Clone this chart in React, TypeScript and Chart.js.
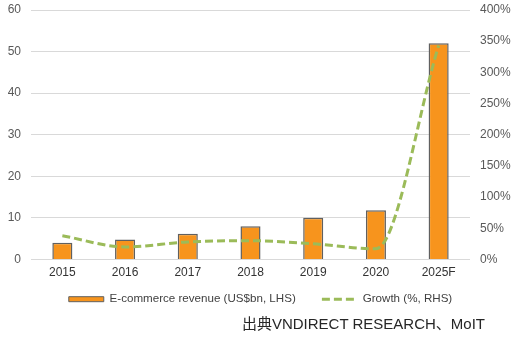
import React, { useEffect, useRef } from "react";
import { Chart, registerables } from "chart.js";

Chart.register(...registerables);

const categories = ["2015", "2016", "2017", "2018", "2019", "2020", "2025F"];
const revenue = [4.0, 4.8, 6.2, 8.0, 10.0, 11.8, 52.0];
const growth = [38, 20, 28, 30, 25, 17, 343];
const revenueLabel = "E-commerce revenue (US$bn, LHS)";
const growthLabel = "Growth (%, RHS)";
const sourceText = "出典VNDIRECT RESEARCH、MoIT";

const FONT = '"Liberation Sans", Arial, "Noto Sans CJK JP", sans-serif';
const ORANGE = "#F7941D";
const GREEN = "#9BBB59";
const BAR_EDGE = "#606060";

export default function App() {
  const canvasRef = useRef<HTMLCanvasElement | null>(null);

  useEffect(() => {
    const ctx = canvasRef.current!;
    const chart = new Chart(ctx, {
      type: "bar",
      data: {
        labels: categories,
        datasets: [
          {
            type: "bar",
            label: revenueLabel,
            data: revenue,
            backgroundColor: ORANGE,
            borderColor: BAR_EDGE,
            borderWidth: 1.5,
            barPercentage: 0.32,
            categoryPercentage: 1,
            yAxisID: "y",
            order: 1,
          },
          {
            type: "line",
            label: growthLabel,
            data: growth,
            borderColor: GREEN,
            backgroundColor: GREEN,
            borderWidth: 3,
            borderDash: [8, 4],
            pointRadius: 0,
            cubicInterpolationMode: "monotone",
            yAxisID: "y1",
            order: 0,
          },
        ],
      },
      options: {
        animation: false,
        responsive: false,
        layout: { padding: { top: 10, left: 0, right: 0, bottom: 0 } },
        plugins: {
          tooltip: { enabled: false },
          legend: {
            position: "bottom",
            labels: {
              usePointStyle: true,
              pointStyleWidth: 35,
              boxHeight: 5,
              padding: 10,
              color: "#404040",
              font: { family: FONT, size: 11.6 },
              generateLabels: () => [
                {
                  text: revenueLabel + "     ",
                  fillStyle: ORANGE,
                  strokeStyle: BAR_EDGE,
                  lineWidth: 1,
                  pointStyle: "rect",
                  datasetIndex: 0,
                  hidden: false,
                  fontColor: "#404040",
                },
                {
                  text: growthLabel,
                  fillStyle: GREEN,
                  strokeStyle: GREEN,
                  lineWidth: 3,
                  lineDash: [8, 4],
                  pointStyle: "line",
                  datasetIndex: 1,
                  hidden: false,
                  fontColor: "#404040",
                },
              ],
            },
          },
        },
        scales: {
          x: {
            grid: { display: false, drawTicks: false },
            border: { display: false },
            ticks: { color: "#333333", font: { family: FONT, size: 12 }, padding: 6 },
            afterFit: (s: any) => {
              s.height = 24;
            },
          },
          y: {
            position: "left",
            min: 0,
            max: 60,
            grid: { color: "#D9D9D9", lineWidth: 1, drawTicks: false },
            border: { display: false },
            ticks: { stepSize: 10, color: "#595959", font: { family: FONT, size: 12 }, padding: 10 },
            afterFit: (s: any) => {
              s.width = 31;
              s.paddingTop = 0;
              s.paddingBottom = 0;
            },
          },
          y1: {
            position: "right",
            min: 0,
            max: 400,
            grid: { display: false, drawTicks: false },
            border: { display: false },
            ticks: {
              stepSize: 50,
              color: "#595959",
              font: { family: FONT, size: 12 },
              padding: 10,
              callback: (v: any) => v + "%",
            },
            afterFit: (s: any) => {
              s.width = 51;
              s.paddingTop = 0;
              s.paddingBottom = 0;
            },
          },
        },
      },
    });
    return () => chart.destroy();
  }, []);

  return (
    <div style={{ position: "absolute", left: 0, top: 0, width: 521, height: 343, background: "#fff" }}>
      <canvas ref={canvasRef} width={521} height={315} style={{ display: "block" }} />
      <div
        style={{
          position: "absolute",
          right: 36,
          top: 312,
          fontFamily: FONT,
          fontSize: 15,
          color: "#262626",
          whiteSpace: "nowrap",
        }}
      >
        {sourceText}
      </div>
    </div>
  );
}
